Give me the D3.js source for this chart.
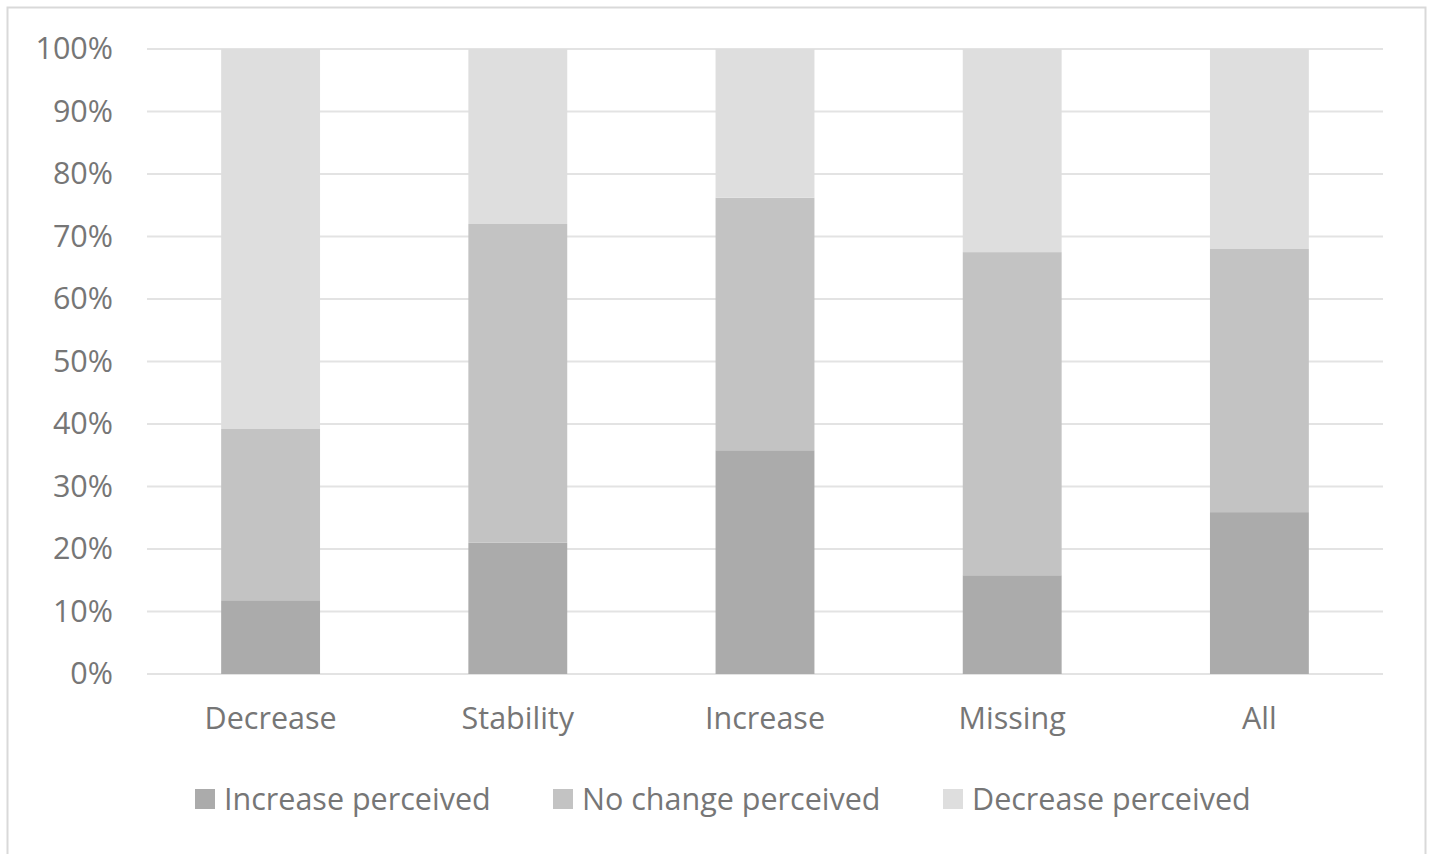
<!DOCTYPE html>
<html>
<head>
<meta charset="utf-8">
<script src="https://cdn.jsdelivr.net/npm/d3@7"></script>
<style>
  body { margin: 0; background: #fff; }
  svg text { font-family: "Open Sans", "Liberation Sans", sans-serif; fill: #767676; }
</style>
</head>
<body>
<div id="chart"></div>
<script>
var categories = ["Decrease", "Stability", "Increase", "Missing", "All"];
var seriesNames = ["Increase perceived", "No change perceived", "Decrease perceived"];
var increasePerceived = [11.8, 21.0, 35.8, 15.8, 25.9];
var noChangePerceived = [27.4, 51.0, 40.4, 51.7, 42.1];
var decreasePerceived = [60.8, 28.0, 23.8, 32.5, 32.0];
var yTicks = [0, 10, 20, 30, 40, 50, 60, 70, 80, 90, 100];
var colors = ["#ababab", "#c3c3c3", "#dedede"];

var w = 1429, h = 854;

var rows = categories.map(function(c, i) {
  return { cat: c, s0: increasePerceived[i], s1: noChangePerceived[i], s2: decreasePerceived[i] };
});

var svg = d3.select("#chart")
    .append("svg")
    .attr("width", w)
    .attr("height", h);

svg.append("rect")
    .attr("x", 7.5)
    .attr("y", 7.5)
    .attr("width", 1418)
    .attr("height", 860)
    .attr("fill", "none")
    .attr("stroke", "#d9d9d9")
    .attr("stroke-width", 2);

var x = d3.scaleBand()
    .domain(categories)
    .range([147, 1383])
    .paddingInner(0.6)
    .paddingOuter(0.3);

var y = d3.scaleLinear()
    .domain([0, 100])
    .range([674, 49]);

// gridlines
svg.append("g")
  .selectAll("line")
  .data(yTicks)
  .join("line")
    .attr("x1", 147)
    .attr("x2", 1383)
    .attr("y1", function(d) { return y(d); })
    .attr("y2", function(d) { return y(d); })
    .attr("stroke", "#e3e3e3")
    .attr("stroke-width", 2);

var yAxis = d3.axisLeft(y)
    .tickValues(yTicks)
    .tickSize(0)
    .tickPadding(34)
    .tickFormat(function(d) { return d + "%"; });

svg.append("g")
    .attr("transform", "translate(147,0)")
    .call(yAxis)
    .call(function(g) { g.select(".domain").remove(); })
    .selectAll("text")
    .style("font-size", "30.5px")
    .attr("fill", "#767676");

var stack = d3.stack().keys(["s0", "s1", "s2"]);
var layers = stack(rows);

svg.append("g")
  .selectAll("g")
  .data(layers)
  .join("g")
    .attr("fill", function(d, i) { return colors[i]; })
  .selectAll("rect")
  .data(function(d) { return d; })
  .join("rect")
    .attr("x", function(d) { return x(d.data.cat); })
    .attr("width", x.bandwidth())
    .attr("y", function(d) { return y(d[1]); })
    .attr("height", function(d) { return y(d[0]) - y(d[1]); });

var xAxis = d3.axisBottom(x)
    .tickSize(0)
    .tickPadding(33);

svg.append("g")
    .attr("transform", "translate(0,674)")
    .call(xAxis)
    .call(function(g) { g.select(".domain").remove(); })
    .selectAll("text")
    .style("font-size", "30.5px")
    .attr("fill", "#767676");

// legend
var legendX = [195, 553, 943];
var legend = svg.append("g")
  .selectAll("g")
  .data(seriesNames)
  .join("g")
    .attr("transform", function(d, i) { return "translate(" + legendX[i] + ",799)"; });

legend.append("rect")
    .attr("x", 0)
    .attr("y", -10)
    .attr("width", 20)
    .attr("height", 20)
    .attr("fill", function(d, i) { return colors[i]; });

legend.append("text")
    .attr("x", 29)
    .attr("dy", "0.35em")
    .style("font-size", "30.5px")
    .text(function(d) { return d; });
</script>
</body>
</html>
